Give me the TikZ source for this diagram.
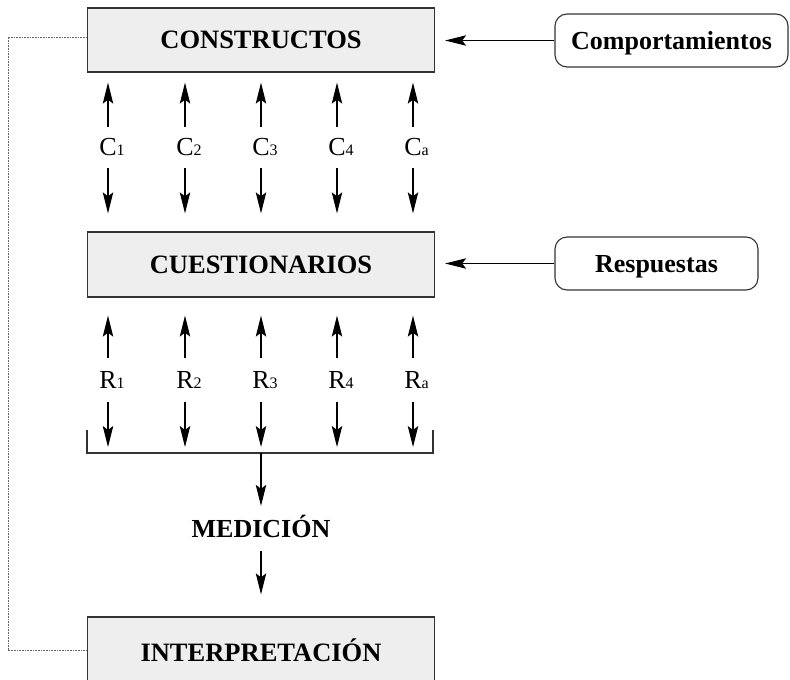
\documentclass[tikz,border=0pt]{standalone}
\usepackage{fontspec}
\setmainfont{Liberation Serif}
\usetikzlibrary{arrows.meta}
\definecolor{boxfill}{HTML}{EEEEEE}
\definecolor{boxline}{HTML}{333333}
\newcommand\lowidx[1]{\rlap{\fontsize{16}{16}\selectfont #1}}
\begin{document}
\begin{tikzpicture}[x=1pt,y=-1pt,
  mainbox/.style={draw=boxline, line width=1.3pt, fill=boxfill,
    minimum width=347pt, minimum height=64pt, inner sep=0pt, text depth=0pt,
    font=\fontsize{26.5}{30}\selectfont\bfseries},
  tagbox/.style={draw=boxline, line width=1.1pt, rounded corners=12pt,
    fill=white, minimum height=53pt, inner sep=0pt, text depth=0pt,
    font=\fontsize{26}{30}\selectfont\bfseries},
  flow/.style={-{Stealth[length=21pt,width=10.5pt,inset=4pt]}, line width=1.1pt},
  feedback/.style={draw=gray!80!black, line width=0.8pt, dash pattern=on 0.8pt off 0.8pt},
  sym/.style={inner sep=0pt, minimum height=41pt, font=\fontsize{26}{30}\selectfont},
  plain/.style={inner sep=0pt, minimum height=40pt, text depth=0pt,
    font=\fontsize{26}{30}\selectfont\bfseries}]
\useasboundingbox (0,0) rectangle (790,680);

% main boxes
\node[mainbox] (cons) at (261,40) {CONSTRUCTOS};
\node[mainbox, minimum height=65pt] (cues) at (261,264.5) {CUESTIONARIOS};
\node[mainbox, minimum height=66pt] (interp) at (261,650) {INTERPRETACIÓN};

% side inputs
\node[tagbox, minimum width=233pt] (comp) at (671.5,40.5) {Comportamientos};
\node[tagbox, minimum width=203pt] (resp) at (656.5,263.5) {Respuestas};
\draw[flow, shorten >=10pt] (comp.west) -- (comp.west -| cons.east);
\draw[flow, shorten >=10pt] (resp.west) -- (resp.west -| cues.east);

% construct indicators
\foreach \i/\x/\s in {1/108/1,2/185/2,3/261/3,4/337/4,5/413/a}{
  \node[sym] (c\i) at (\x,147.5) {C\lowidx{\s}};
  \draw[flow, shorten >=10pt] (c\i.north) -- (c\i.north |- cons.south);
  \draw[flow, shorten >=18pt] (c\i.south) -- (c\i.south |- cues.north);
}

% response indicators
\coordinate (br) at (261,453);
\foreach \i/\x/\s in {1/108/1,2/185/2,3/261/3,4/337/4,5/413/a}{
  \node[sym, minimum height=44pt] (r\i) at (\x,380) {R\lowidx{\s}};
  \draw[flow, shorten >=18pt] (r\i.north) -- (r\i.north |- cues.south);
  \draw[flow, shorten >=6pt] (r\i.south) -- (r\i.south |- br);
}

% bracket collecting the responses
\draw[line width=1.1pt, draw=boxline] (87,430) |- (br) -| (433,430);

\node[plain] (med) at (261,526) {MEDICIÓN};
\draw[flow] (br) -- (med.north);
\draw[flow, shorten <=5pt, shorten >=22pt] (med.south) -- (interp.north);

% feedback loop
\coordinate (loop) at (8,37);
\draw[feedback] (cons.west |- loop) -- (loop) |- (interp.west);
\end{tikzpicture}
\end{document}
